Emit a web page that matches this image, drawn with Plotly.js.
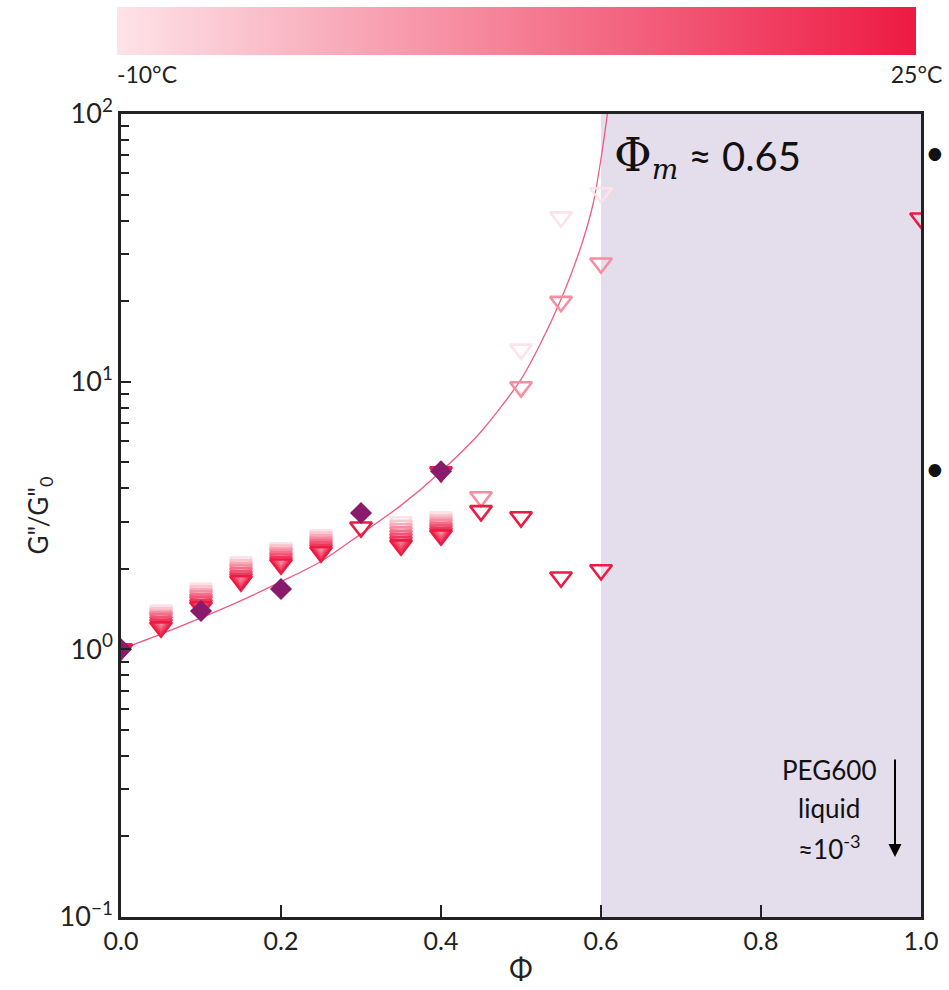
<!DOCTYPE html>
<html>
<head>
<meta charset="utf-8">
<script src="https://cdn.plot.ly/plotly-3.0.1.min.js"></script>
<style>html,body{margin:0;padding:0;background:#fff;}</style>
</head>
<body>
<div id="chart" style="width:949px;height:990px;"></div>
<script>
// volume fraction positions
const phi = [0, 0.05, 0.1, 0.15, 0.2, 0.25, 0.3, 0.35, 0.4, 0.45, 0.5, 0.55, 0.6, 1.0];
// temperatures (°C) of the triangle series
const temps = [-10, -5, 0, 5, 10, 15, 20, 25];
// G''/G''0 per temperature
const g_m10 = [1.00, 1.40, 1.69, 2.12, 2.39, 2.67, null, 2.99, 3.12, null, 13.2, 41.2, 50.7, null];
const g_m5  = [1.00, 1.37, 1.65, 2.07, 2.35, 2.62, null, 2.90, 3.05, null, null, null, null, null];
const g_0   = [1.00, 1.34, 1.61, 2.02, 2.30, 2.56, null, 2.82, 2.98, null, null, null, null, null];
const g_5   = [1.00, 1.32, 1.58, 1.98, 2.26, 2.51, null, 2.74, 2.92, 3.71, 9.55, 19.9, 27.7, null];
const g_10  = [1.00, 1.30, 1.54, 1.93, 2.21, 2.46, null, 2.66, 2.85, null, null, null, null, null];
const g_15  = [1.00, 1.27, 1.51, 1.88, 2.17, 2.41, null, 2.59, 2.79, null, null, null, null, null];
const g_20  = [1.00, 1.24, 1.47, 1.84, 2.12, 2.36, null, 2.52, 2.73, null, null, null, null, null];
const g_25  = [1.00, 1.21, 1.44, 1.80, 2.08, 2.31, 2.86, 2.45, 2.67, 3.29, 3.12, 1.86, 1.98, 40.8];
// additional 25 °C point
const extraPhi = [0.4];
const extraVal = [4.60];
// diamonds (second sample)
const diaPhi = [0, 0.1, 0.2, 0.3, 0.4];
const diaVal = [1.00, 1.39, 1.68, 3.23, 4.63];
// model curve
const fitPhi = [0, 0.05, 0.1, 0.15, 0.2, 0.25, 0.3, 0.35, 0.4, 0.45, 0.5, 0.525, 0.55, 0.575, 0.59, 0.6, 0.608, 0.613];
const fitVal = [1.00, 1.14, 1.31, 1.52, 1.79, 2.13, 2.70, 3.45, 4.62, 6.5, 10.2, 14.0, 20.3, 32, 46, 68, 100, 130];
// axis ticks
const xTicks = [0, 0.2, 0.4, 0.6, 0.8, 1.0];
const yTicks = [0.1, 1, 10, 100];
const yTickText = ['10<sup>−1</sup>', '10<sup>0</sup>', '10<sup>1</sup>', '10<sup>2</sup>'];
const cbTickVals = [-10, 25];
const cbTickText = ['\u00a0'.repeat(10) + '-10°C', '25°C'];

const series = [g_m10, g_m5, g_0, g_5, g_10, g_15, g_20, g_25];
const tx = [], ty = [], tc = [];
series.forEach((arr, i) => {
  arr.forEach((v, j) => {
    if (v !== null) { tx.push(phi[j]); ty.push(v); tc.push(temps[i]); }
  });
});
extraPhi.forEach((p, k) => { tx.push(p); ty.push(extraVal[k]); tc.push(25); });

const FONT = 'Lato, "Open Sans", sans-serif';
const AX = '#222';

const traces = [
  {
    x: fitPhi, y: fitVal, mode: 'lines', type: 'scatter',
    line: {color: '#ee5c84', width: 1.3, shape: 'spline', smoothing: 0.8},
    hoverinfo: 'skip'
  },
  {
    x: tx, y: ty, mode: 'markers', type: 'scatter',
    marker: {
      symbol: 'triangle-down-open', size: 19,
      line: {width: 2.6},
      color: tc, cmin: -10, cmax: 25,
      colorscale: [[0, '#fde3e8'], [1, '#ed1a43']],
      showscale: true,
      colorbar: {
        orientation: 'h', x: 0.495, xanchor: 'center',
        y: 1.1327, yanchor: 'top', ypad: 0, xpad: 0,
        len: 0.999, lenmode: 'fraction', thickness: 48,
        outlinewidth: 0,
        tickvals: cbTickVals, ticktext: cbTickText,
        ticks: 'inside', ticklen: 10, tickwidth: 1.5, tickcolor: '#333',
        tickfont: {family: FONT, size: 23, color: '#222'}
      }
    }
  },
  {
    x: diaPhi, y: diaVal, mode: 'markers', type: 'scatter',
    marker: {symbol: 'diamond', size: 17, color: '#8a1b6c', line: {width: 0}}
  }
];

const layout = {
  width: 949, height: 990,
  margin: {l: 121, r: 28, t: 114, b: 73, autoexpand: false},
  paper_bgcolor: '#fff', plot_bgcolor: '#fff',
  showlegend: false,
  font: {family: FONT, color: AX},
  xaxis: {
    range: [0, 1], tickvals: xTicks, tickformat: '.1f',
    ticks: 'inside', ticklen: 12, tickwidth: 2, tickcolor: AX,
    showline: true, linewidth: 2.5, linecolor: AX, mirror: true,
    showgrid: false, zeroline: false,
    tickfont: {size: 25, family: FONT},
    title: {text: 'Φ', font: {size: 28, family: FONT}, standoff: 6}
  },
  yaxis: {
    type: 'log', range: [-1, 2], tickvals: yTicks, ticktext: yTickText,
    ticks: 'inside', ticklen: 10, tickwidth: 2, tickcolor: AX,
    minor: {ticks: 'inside', ticklen: 8, tickwidth: 1.8, tickcolor: AX, dtick: 'D1', showgrid: false},
    showline: true, linewidth: 2.5, linecolor: AX, mirror: true,
    showgrid: false, zeroline: false,
    tickfont: {size: 27, family: FONT},
    title: {text: 'G"/G"<sub>0</sub>', font: {size: 26, family: FONT}, standoff: 4}
  },
  shapes: [{
    type: 'rect', xref: 'x', yref: 'paper', x0: 0.6, x1: 1.0, y0: 0, y1: 1,
    fillcolor: '#e4ddeb', line: {width: 0}, layer: 'below'
  }],
  annotations: [
    {x: 0.614, y: 1.839, xref: 'x', yref: 'y', xanchor: 'left', yanchor: 'middle', showarrow: false,
     text: '<span style="font-family:\'DejaVu Serif\';font-size:46px">Φ</span><span style="font-family:\'DejaVu Serif\'"><sub><i>m</i></sub></span> ≈ 0.65',
     font: {size: 40, family: FONT, color: '#111'}},
    {x: 0.885, y: -0.451, xref: 'x', yref: 'y', showarrow: false, text: 'PEG600',
     font: {size: 26, family: FONT, color: '#111'}},
    {x: 0.885, y: -0.593, xref: 'x', yref: 'y', showarrow: false, text: 'liquid',
     font: {size: 26, family: FONT, color: '#111'}},
    {x: 0.885, y: -0.742, xref: 'x', yref: 'y', showarrow: false, text: '≈10<sup>-3</sup>',
     font: {size: 26, family: FONT, color: '#111'}},
    {x: 0.9675, y: -0.776, xref: 'x', yref: 'y', ax: 0.9675, ay: -0.406, axref: 'x', ayref: 'y',
     showarrow: true, arrowhead: 2, arrowsize: 1.3, arrowwidth: 2, arrowcolor: '#000', text: ''},
    {x: 1.033, y: 1.86, xref: 'paper', yref: 'y', showarrow: false, text: '•',
     font: {size: 34, family: FONT, color: '#111'}},
    {x: 1.033, y: 0.68, xref: 'paper', yref: 'y', showarrow: false, text: '•',
     font: {size: 34, family: FONT, color: '#111'}}
  ]
};

Plotly.newPlot('chart', traces, layout, {displayModeBar: false, responsive: false});
</script>
</body>
</html>
